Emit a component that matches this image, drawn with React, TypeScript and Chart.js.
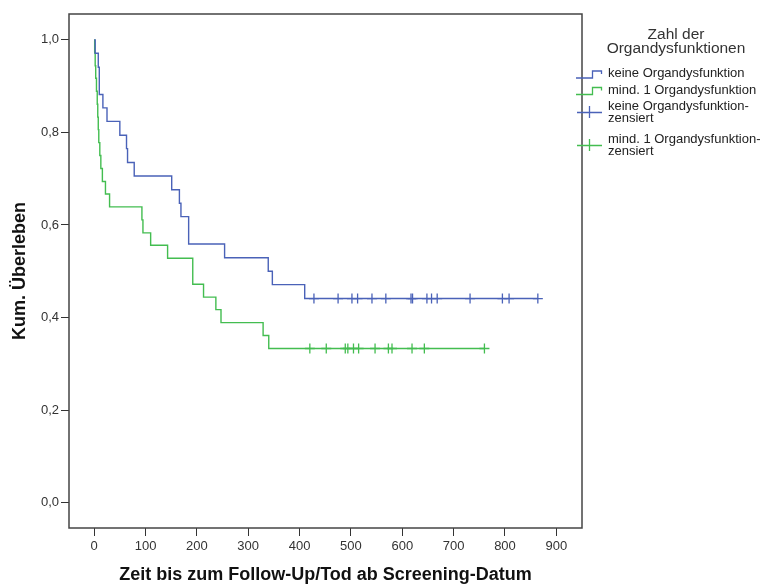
import React, { useEffect, useRef } from "react";
import { Chart, registerables } from "chart.js";

Chart.register(...registerables);

// ---- axis ticks ----
const xTickValues = [0, 100, 200, 300, 400, 500, 600, 700, 800, 900];
const xTickLabels = ["0", "100", "200", "300", "400", "500", "600", "700", "800", "900"];
const yTickValues = [0, 0.2, 0.4, 0.6, 0.8, 1.0];
const yTickLabels = ["0,0", "0,2", "0,4", "0,6", "0,8", "1,0"];

// ---- series: keine Organdysfunktion ----
const noneTimes = [0, 2, 8, 10, 17, 25, 50, 63, 65, 78, 151, 166, 169, 184, 254, 339, 347, 410, 864];
const noneSurv = [1.0, 0.971, 0.941, 0.882, 0.853, 0.824, 0.794, 0.765, 0.735, 0.706, 0.676, 0.647, 0.618, 0.559, 0.529, 0.5, 0.471, 0.441, 0.441];
const noneCensorTimes = [428, 475, 502, 513, 541, 568, 617, 620, 648, 657, 668, 732, 795, 808, 864];
const noneCensorSurv = [0.441, 0.441, 0.441, 0.441, 0.441, 0.441, 0.441, 0.441, 0.441, 0.441, 0.441, 0.441, 0.441, 0.441, 0.441];

// ---- series: mind. 1 Organdysfunktion ----
const oneTimes = [0, 1, 2, 3, 4.5, 6, 7, 8, 9, 11, 13, 16, 22, 30, 93, 95, 110, 143, 192, 213, 237, 247, 329, 340, 760];
const oneSurv = [1.0, 0.972, 0.944, 0.917, 0.889, 0.861, 0.833, 0.806, 0.778, 0.75, 0.722, 0.694, 0.667, 0.639, 0.611, 0.583, 0.556, 0.528, 0.472, 0.444, 0.417, 0.389, 0.361, 0.333, 0.333];
const oneCensorTimes = [420, 452, 489, 494, 505, 515, 547, 573, 580, 619, 643, 760];
const oneCensorSurv = [0.333, 0.333, 0.333, 0.333, 0.333, 0.333, 0.333, 0.333, 0.333, 0.333, 0.333, 0.333];

// ---- legend ----
const legendTitle = ["Zahl der", "Organdysfunktionen"];
const legendLabels = [
  ["keine Organdysfunktion"],
  ["mind. 1 Organdysfunktion"],
  ["keine Organdysfunktion-", "zensiert"],
  ["mind. 1 Organdysfunktion-", "zensiert"],
];

const BLUE = "#4a62b8";
const GREEN = "#43bd50";
const FONT = "'Liberation Sans', Arial, sans-serif";

const toPoints = (xs: number[], ys: number[]) => xs.map((x, i) => ({ x, y: ys[i] }));

const framePlugin = {
  id: "frameAndLegend",
  afterDraw(chart: any) {
    const { ctx, chartArea } = chart;
    ctx.save();
    // frame
    ctx.strokeStyle = "#444";
    ctx.lineWidth = 1.5;
    ctx.strokeRect(chartArea.left, chartArea.top, chartArea.right - chartArea.left, chartArea.bottom - chartArea.top);

    // legend title
    ctx.fillStyle = "#333";
    ctx.textAlign = "center";
    ctx.textBaseline = "alphabetic";
    ctx.font = `15.5px ${FONT}`;
    ctx.fillText(legendTitle[0], 676, 39);
    ctx.fillText(legendTitle[1], 676, 53);

    // legend items
    ctx.font = `13px ${FONT}`;
    ctx.textAlign = "left";
    ctx.textBaseline = "middle";
    const colors = [BLUE, GREEN, BLUE, GREEN];
    const rows = [
      { lines: [73.5], icon: 73.5 },
      { lines: [90], icon: 90 },
      { lines: [106, 118.5], icon: 112 },
      { lines: [139, 151.5], icon: 145 },
    ];
    rows.forEach((r, i) => {
      ctx.strokeStyle = colors[i];
      ctx.lineWidth = 1.3;
      ctx.beginPath();
      const c = r.icon;
      if (i < 2) {
        ctx.moveTo(576, c + 4.5);
        ctx.lineTo(592.5, c + 4.5);
        ctx.lineTo(592.5, c - 2.5);
        ctx.lineTo(601.5, c - 2.5);
        ctx.lineTo(601.5, c + 0.5);
      } else {
        ctx.moveTo(577, c + 0.5);
        ctx.lineTo(602, c + 0.5);
        ctx.moveTo(589.5, c - 6);
        ctx.lineTo(589.5, c + 6);
      }
      ctx.stroke();
      ctx.fillStyle = "#222";
      legendLabels[i].forEach((t, j) => ctx.fillText(t, 608, r.lines[j]));
    });
    ctx.restore();
  },
};

export default function App() {
  const ref = useRef<HTMLCanvasElement | null>(null);

  useEffect(() => {
    if (!ref.current) return;
    const chart = new Chart(ref.current, {
      type: "line",
      data: {
        datasets: [
          {
            label: "keine Organdysfunktion",
            data: toPoints(noneTimes, noneSurv),
            borderColor: BLUE,
            borderWidth: 1.4,
            stepped: "before",
            pointRadius: 0,
            fill: false,
          },
          {
            label: "mind. 1 Organdysfunktion",
            data: toPoints(oneTimes, oneSurv),
            borderColor: GREEN,
            borderWidth: 1.4,
            stepped: "before",
            pointRadius: 0,
            fill: false,
          },
          {
            label: "keine Organdysfunktion-zensiert",
            data: toPoints(noneCensorTimes, noneCensorSurv),
            borderColor: BLUE,
            backgroundColor: BLUE,
            showLine: false,
            pointStyle: "cross",
            pointRadius: 5,
            pointBorderWidth: 1.3,
          },
          {
            label: "mind. 1 Organdysfunktion-zensiert",
            data: toPoints(oneCensorTimes, oneCensorSurv),
            borderColor: GREEN,
            backgroundColor: GREEN,
            showLine: false,
            pointStyle: "cross",
            pointRadius: 5,
            pointBorderWidth: 1.3,
          },
        ],
      },
      options: {
        animation: false,
        responsive: false,
        devicePixelRatio: 1,
        layout: { padding: { top: 14, right: 186, left: 0, bottom: 0 } },
        plugins: { legend: { display: false }, tooltip: { enabled: false } },
        scales: {
          x: {
            type: "linear",
            min: -49,
            max: 950,
            afterFit: (s: any) => {
              s.height = 58;
            },
            afterBuildTicks: (s: any) => {
              s.ticks = xTickValues.map((v) => ({ value: v }));
            },
            border: { display: false },
            grid: { drawOnChartArea: false, drawTicks: true, tickLength: 8, color: "#333", lineWidth: 1 },
            ticks: {
              padding: 3,
              color: "#333",
              font: { family: FONT, size: 13 },
              maxRotation: 0,
              autoSkip: false,
              callback: (v: any) => xTickLabels[xTickValues.indexOf(Number(v))],
            },
            title: {
              display: true,
              text: "Zeit bis zum Follow-Up/Tod ab Screening-Datum",
              color: "#111",
              font: { family: FONT, size: 18, weight: "bold" },
              padding: { top: 0, bottom: 0 },
            },
          },
          y: {
            type: "linear",
            min: -0.055,
            max: 1.056,
            afterFit: (s: any) => {
              s.width = 69;
            },
            afterBuildTicks: (s: any) => {
              s.ticks = yTickValues.map((v) => ({ value: v }));
            },
            border: { display: false },
            grid: { drawOnChartArea: false, drawTicks: true, tickLength: 8, color: "#333", lineWidth: 1 },
            ticks: {
              padding: 2,
              color: "#333",
              font: { family: FONT, size: 13 },
              autoSkip: false,
              callback: (v: any) => yTickLabels[yTickValues.indexOf(Number(v))],
            },
            title: {
              display: true,
              text: "Kum. Überleben",
              color: "#111",
              font: { family: FONT, size: 18, weight: "bold" },
              padding: { top: 9, bottom: 0 },
            },
          },
        },
      },
      plugins: [framePlugin],
    });
    return () => chart.destroy();
  }, []);

  return (
    <div style={{ position: "fixed", left: 0, top: 0, width: 768, height: 586, background: "#fff" }}>
      <canvas ref={ref} width={768} height={586} style={{ display: "block" }} />
    </div>
  );
}
